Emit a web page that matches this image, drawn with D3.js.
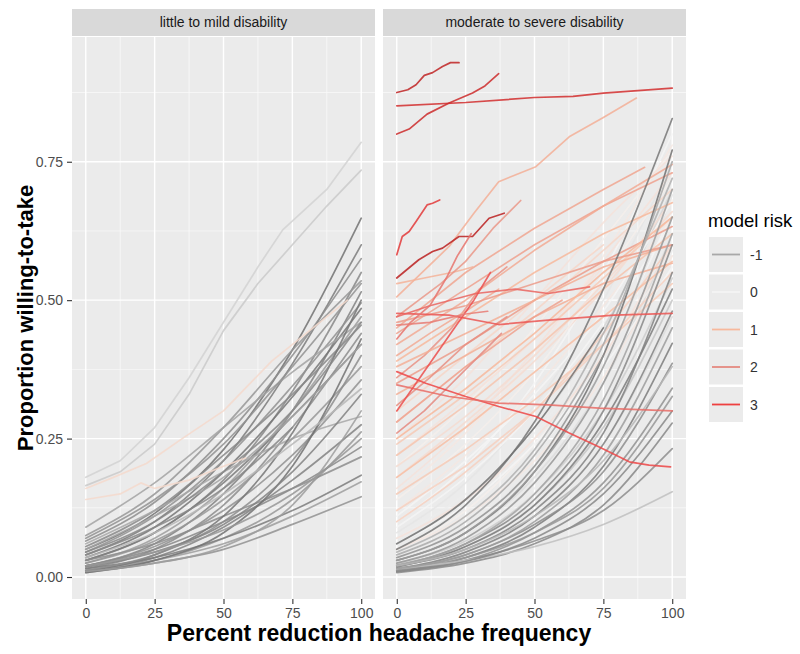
<!DOCTYPE html>
<html><head><meta charset="utf-8">
<script src="https://cdn.jsdelivr.net/npm/d3@7"></script>
<style>
body{margin:0;background:#fff}
text{font-family:"Liberation Sans",Arial,Helvetica,sans-serif}
</style>
</head><body>
<svg id="c" width="800" height="654"></svg>
<script>
// ---------------- data ----------------
const facets = ["little to mild disability", "moderate to severe disability"];
const xTicks = [0, 25, 50, 75, 100];
const xMinor = [12.5, 37.5, 62.5, 87.5];
const yTicks = [0, 0.25, 0.5, 0.75];
const yTickLabels = ["0.00", "0.25", "0.50", "0.75"];
const yMinor = [0.125, 0.375, 0.625, 0.875];
const legendBreaks = [-1, 0, 1, 2, 3];
const gridXs = [0, 25, 50, 75, 100];   // x positions shared by the "grid" series below

// left facet: series sampled at gridXs
const leftGridRisk = [-2.0,-1.8,-1.5,-1.6,-1.3,-1.7,-1.4,-1.9,-1.2,-1.6,-1.5,-1.8,-1.1,-1.4,-1.7,-1.3,-1.6,-1.5,-1.8,-1.2,-1.4,-1.0,-1.6,-1.9,-1.3,-1.5,-2.0,-1.1,-1.7,-1.4,-0.8,-1.2,-1.6,-1.3];
const leftGridY = [
  [0.050,0.115,0.230,0.410,0.648],
  [0.040,0.100,0.210,0.385,0.600],
  [0.065,0.135,0.250,0.400,0.575],
  [0.030,0.080,0.175,0.335,0.550],
  [0.075,0.150,0.270,0.410,0.535],
  [0.020,0.060,0.150,0.300,0.515],
  [0.045,0.110,0.210,0.345,0.495],
  [0.035,0.090,0.190,0.325,0.485],
  [0.025,0.070,0.160,0.300,0.470],
  [0.055,0.120,0.220,0.330,0.455],
  [0.015,0.050,0.130,0.270,0.440],
  [0.030,0.080,0.170,0.290,0.420],
  [0.090,0.170,0.270,0.370,0.460],
  [0.020,0.055,0.120,0.220,0.356],
  [0.010,0.035,0.090,0.175,0.275],
  [0.012,0.030,0.070,0.140,0.262],
  [0.020,0.050,0.100,0.160,0.235],
  [0.030,0.060,0.110,0.160,0.217],
  [0.015,0.035,0.070,0.120,0.184],
  [0.010,0.030,0.060,0.110,0.172],
  [0.008,0.025,0.050,0.095,0.145],
  [0.060,0.120,0.190,0.250,0.290],
  [0.040,0.090,0.160,0.270,null],
  [0.010,0.040,0.110,0.260,0.500],
  [0.025,0.065,0.140,0.250,0.380],
  [0.012,0.040,0.100,0.210,0.400],
  [0.008,0.030,0.080,0.200,0.430],
  [0.050,0.110,0.180,0.290,0.420],
  [0.018,0.045,0.095,0.190,0.330],
  [0.070,0.140,0.240,0.380,0.530],
  [0.035,0.080,0.150,0.240,0.340],
  [0.010,0.025,0.055,0.130,0.300],
  [0.045,0.100,0.190,0.300,0.460],
  [0.020,0.045,0.085,0.150,0.250]
];
// left facet: series with their own x positions
const leftFreeRisk = [-0.45, -0.55, 0.45, 0.45];
const leftFreePts = [
  [[0,0.18],[12.5,0.21],[25,0.27],[37.5,0.36],[50,0.46],[62.5,0.56],[71.5,0.627],[87.5,0.70],[100,0.785]],
  [[0,0.165],[12.5,0.19],[25,0.24],[37.5,0.33],[50,0.445],[62.5,0.53],[75,0.60],[87.5,0.67],[100,0.735]],
  [[0,0.16],[10,0.18],[22,0.205],[35,0.25],[50,0.30],[67.5,0.39],[80,0.44],[95,0.50]],
  [[0,0.14],[12.5,0.15],[20,0.17],[25,0.16],[37.5,0.175],[50,0.20],[58,0.215]]
];

// right facet: series sampled at gridXs
const rightGridRisk = [-1.9,-2.0,-1.6,-1.7,-1.8,-1.5,-1.4,-1.3,-1.6,-1.5,-0.7,-1.7,-1.2,-1.0,-2.0,-1.3,-1.8,-1.1,-1.4,-0.9,-1.6,-1.2,-0.8,
  -0.4,-0.2,0.0,0.2,0.1,0.3,0.0,-0.3,0.2,-0.1,0.1,0.4,-0.5,0.0,0.3,-0.2,0.1,-0.6,0.5,0.0,
  0.3,0.5,0.6,0.2,0.4,-0.1,0.7,0.0,0.3,-0.3];
const rightGridY = [
  [0.050,0.130,0.280,0.520,0.828],
  [0.030,0.080,0.190,0.400,0.771],
  [0.020,0.060,0.140,0.300,0.600],
  [0.015,0.045,0.110,0.240,0.480],
  [0.010,0.035,0.090,0.200,0.422],
  [0.012,0.040,0.095,0.190,0.386],
  [0.010,0.030,0.080,0.170,0.341],
  [0.012,0.035,0.080,0.160,0.326],
  [0.008,0.025,0.060,0.130,0.278],
  [0.010,0.030,0.065,0.120,0.232],
  [0.015,0.030,0.055,0.095,0.154],
  [0.020,0.050,0.120,0.260,0.550],
  [0.030,0.080,0.190,0.380,0.700],
  [0.040,0.100,0.220,0.420,0.750],
  [0.060,0.140,0.270,0.450,null],
  [0.025,0.070,0.170,0.350,0.650],
  [0.018,0.055,0.130,0.280,0.520],
  [0.022,0.060,0.150,0.320,0.620],
  [0.035,0.090,0.200,0.400,null],
  [0.045,0.110,0.230,0.440,0.720],
  [0.010,0.028,0.070,0.150,0.300],
  [0.015,0.040,0.100,0.220,0.450],
  [0.020,0.050,0.110,0.210,0.380],
  [0.060,0.140,0.270,0.450,0.700],
  [0.080,0.170,0.310,0.500,0.750],
  [0.100,0.200,0.350,0.550,0.800],
  [0.150,0.260,0.400,0.580,0.780],
  [0.200,0.310,0.450,0.610,0.770],
  [0.250,0.360,0.500,0.640,0.760],
  [0.040,0.100,0.220,0.400,0.660],
  [0.030,0.080,0.180,0.350,0.620],
  [0.120,0.220,0.340,0.490,0.650],
  [0.070,0.150,0.260,0.420,0.600],
  [0.050,0.120,0.240,0.400,0.580],
  [0.180,0.280,0.390,0.520,0.680],
  [0.025,0.065,0.150,0.300,0.540],
  [0.090,0.180,0.300,0.460,0.640],
  [0.220,0.320,0.430,0.560,null],
  [0.035,0.090,0.200,0.380,0.690],
  [0.140,0.240,0.370,0.540,0.720],
  [0.020,0.055,0.130,0.270,0.500],
  [0.280,0.380,0.480,0.590,0.700],
  [0.060,0.130,0.240,0.380,0.560],
  [0.160,0.270,0.410,0.570,0.730],
  [0.300,0.400,0.500,0.600,null],
  [0.100,0.190,0.300,0.440,0.600],
  [0.050,0.110,0.210,0.360,0.580],
  [0.200,0.290,0.400,0.530,0.660],
  [0.030,0.070,0.160,0.320,0.590],
  [0.240,0.330,0.430,0.540,0.650],
  [0.110,0.210,0.330,0.480,0.680],
  [0.070,0.140,0.250,0.400,0.600],
  [0.015,0.045,0.110,0.240,0.470]
];
const nDarkRight = 23; // first 23 grid series are the dark grey ones (drawn above the pale ones)
// right facet: salmon series with their own x positions
const rightSalmonRisk = [1.2,1.5,1.3,1.0,1.6,1.2,1.8,1.4,1.0,0.8,1.5,1.1,0.9,1.3,1.7,0.7,1.9,0.6,2.0,1.2,1.6];
const rightSalmonPts = [
  [[0,0.506],[19,0.597],[28,0.657],[37,0.714],[50.5,0.741],[62.6,0.795],[75,0.83],[87,0.865]],
  [[0,0.44],[25,0.52],[50,0.60],[75,0.67],[100,0.73]],
  [[0,0.42],[25,0.50],[50,0.59],[75,0.67],[100,0.745]],
  [[0,0.39],[25,0.47],[50,0.55],[75,0.62],[100,0.676]],
  [[0,0.35],[25,0.42],[50,0.50],[75,0.57],[100,0.633]],
  [[0,0.33],[25,0.40],[50,0.47],[75,0.53],[100,0.567]],
  [[0,0.36],[10,0.40],[20,0.45],[30,0.52],[40,0.56]],
  [[0,0.45],[25,0.55],[50,0.63],[75,0.70],[90,0.74]],
  [[0,0.25],[25,0.34],[50,0.44],[75,0.55],[100,0.65]],
  [[0,0.22],[25,0.31],[50,0.41],[75,0.52],[100,0.62]],
  [[0,0.28],[25,0.38],[50,0.47],[60,0.50]],
  [[0,0.53],[10,0.54],[20,0.55],[24,0.555],[27.5,0.56]],
  [[0,0.18],[25,0.27],[50,0.37],[75,0.47],[100,0.57]],
  [[0,0.40],[12,0.44],[25,0.48],[37,0.52]],
  [[0,0.47],[8,0.50],[16,0.53],[25,0.57],[35,0.63],[45,0.68]],
  [[0,0.15],[25,0.23],[50,0.32],[75,0.42],[100,0.53]],
  [[0,0.31],[12,0.36],[25,0.42],[40,0.47]],
  [[0,0.12],[25,0.20],[50,0.30],[75,0.42],[100,0.55]],
  [[0,0.26],[10,0.30],[20,0.35],[30,0.40],[38,0.44]],
  [[0,0.38],[25,0.44],[50,0.50],[75,0.56],[100,0.60]],
  [[0,0.46],[25,0.49],[50,0.53],[75,0.57],[100,0.60]]
];
// right facet: red series
const rightRedRisk = [3.8,3.5,3.6,3.2,3.9,2.9,2.4,2.7,2.5,2.8,2.3,2.2];
const rightRedPts = [
  [[0,0.875],[4,0.88],[7,0.889],[10,0.906],[13,0.911],[16.6,0.922],[19.5,0.929],[22.6,0.929]],
  [[0,0.851],[25,0.857],[50,0.866],[64,0.868],[75,0.874],[100,0.883]],
  [[0,0.80],[4.5,0.809],[11,0.836],[19,0.856],[27.5,0.874],[32,0.887],[37,0.909]],
  [[0,0.582],[2,0.615],[4.5,0.624],[7,0.642],[11,0.672],[13,0.675],[15.6,0.681]],
  [[0,0.54],[8,0.573],[13,0.588],[16.6,0.594],[22.6,0.615],[27.5,0.615],[33.5,0.648],[39,0.657]],
  [[0,0.371],[10.5,0.35],[25,0.326],[37,0.308],[50.5,0.29],[62.6,0.26],[73.5,0.235],[84.4,0.208],[91.6,0.202],[99.4,0.199]],
  [[0,0.347],[19,0.326],[37,0.314],[55,0.311],[73.5,0.305],[100,0.30]],
  [[0,0.476],[19,0.473],[37,0.456],[55,0.464],[79,0.473],[100,0.476]],
  [[0,0.47],[12,0.49],[28.7,0.512],[43,0.52],[55,0.512],[70,0.524]],
  [[0,0.30],[7,0.35],[14,0.40],[21,0.45],[28,0.50],[34,0.55]],
  [[0,0.43],[5,0.46],[12,0.49],[18,0.54],[22,0.58],[27,0.62]],
  [[0,0.455],[12,0.46],[25,0.475],[33,0.48]]
];

// ---------------- drawing ----------------
const svg = d3.select("#c");
const panels = [{x0:72, x1:375}, {x0:383, x1:686}];
const pTop = 37, pBot = 599;
const y = d3.scaleLinear().domain([-0.0397, 0.9753]).range([pBot, pTop]);
const color = d3.scaleLinear()
  .domain([-3,-2,-1,0,1,2,3,4])
  .range(["#4a4a4a","#727272","#a8a8a8","#f4f4f4","#f7b89c","#e58a80","#ee4040","#b51c1c"])
  .clamp(true);

const toPts = ys => gridXs.map((x,i)=>[x, ys[i]]).filter(d=>d[1]!=null);

const facetData = [
  [
    ...leftGridY.map((ys,i)=>({r:leftGridRisk[i], p:toPts(ys), smooth:true})),
    ...leftFreePts.map((p,i)=>({r:leftFreeRisk[i], p, smooth:false}))
  ],
  [
    ...rightGridY.slice(nDarkRight).map((ys,i)=>({r:rightGridRisk[i+nDarkRight], p:toPts(ys), smooth:true})),
    ...rightSalmonPts.map((p,i)=>({r:rightSalmonRisk[i], p, smooth:false})),
    ...rightGridY.slice(0,nDarkRight).map((ys,i)=>({r:rightGridRisk[i], p:toPts(ys), smooth:true})),
    ...rightRedPts.map((p,i)=>({r:rightRedRisk[i], p, smooth:false}))
  ]
];

panels.forEach((pn, k) => {
  const x = d3.scaleLinear().domain([-5, 105]).range([pn.x0, pn.x1]);
  const g = svg.append("g");
  // strip
  g.append("rect").attr("x", pn.x0).attr("y", 9).attr("width", pn.x1-pn.x0).attr("height", 27).attr("fill", "#d9d9d9");
  g.append("text").attr("x", (pn.x0+pn.x1)/2).attr("y", 27).attr("text-anchor","middle")
    .attr("font-size", 14).attr("fill", "#1a1a1a").text(facets[k]);
  // panel
  g.append("rect").attr("x", pn.x0).attr("y", pTop).attr("width", pn.x1-pn.x0).attr("height", pBot-pTop).attr("fill", "#ebebeb");
  xMinor.forEach(v => g.append("line").attr("x1", x(v)).attr("x2", x(v)).attr("y1", pTop).attr("y2", pBot).attr("stroke","#fafafa").attr("stroke-width",0.7));
  yMinor.forEach(v => g.append("line").attr("x1", pn.x0).attr("x2", pn.x1).attr("y1", y(v)).attr("y2", y(v)).attr("stroke","#fafafa").attr("stroke-width",0.7));
  xTicks.forEach(v => g.append("line").attr("x1", x(v)).attr("x2", x(v)).attr("y1", pTop).attr("y2", pBot).attr("stroke","#fff").attr("stroke-width",1.4));
  yTicks.forEach(v => g.append("line").attr("x1", pn.x0).attr("x2", pn.x1).attr("y1", y(v)).attr("y2", y(v)).attr("stroke","#fff").attr("stroke-width",1.4));

  const clipId = "clip"+k;
  svg.append("clipPath").attr("id", clipId).append("rect")
    .attr("x", pn.x0).attr("y", pTop).attr("width", pn.x1-pn.x0).attr("height", pBot-pTop);
  const lineS = d3.line().x(d=>x(d[0])).y(d=>y(d[1])).curve(d3.curveMonotoneX);
  const lineL = d3.line().x(d=>x(d[0])).y(d=>y(d[1]));
  g.append("g").attr("clip-path", `url(#${clipId})`)
    .selectAll("path").data(facetData[k]).join("path")
    .attr("d", d=>(d.smooth ? lineS : lineL)(d.p)).attr("fill","none")
    .attr("stroke", d=>color(d.r)).attr("stroke-width", 1.7)
    .attr("stroke-opacity", 0.85).attr("stroke-linejoin","round").attr("stroke-linecap","round");

  // x axis
  const xa = d3.axisBottom(x).tickValues(xTicks).tickSize(5).tickPadding(4).tickFormat(d3.format("d"));
  const gx = g.append("g").attr("transform", `translate(0,${pBot})`).call(xa);
  gx.select(".domain").remove();
  gx.selectAll("line").attr("stroke","#333").attr("stroke-width",1.1);
  gx.selectAll("text").attr("font-size",14).attr("fill","#4d4d4d").attr("font-family","Liberation Sans, Arial, sans-serif");

  if (k === 0) {
    const ya = d3.axisLeft(y).tickValues(yTicks).tickSize(5).tickPadding(4).tickFormat((d,i)=>yTickLabels[i]);
    const gy = g.append("g").attr("transform", `translate(${pn.x0},0)`).call(ya);
    gy.select(".domain").remove();
    gy.selectAll("line").attr("stroke","#333").attr("stroke-width",1.1);
    gy.selectAll("text").attr("font-size",14).attr("fill","#4d4d4d").attr("font-family","Liberation Sans, Arial, sans-serif");
  }
});

// axis titles
svg.append("text").attr("x", 379).attr("y", 641).attr("text-anchor","middle")
  .attr("font-size", 23).attr("font-weight","bold").attr("fill","#000")
  .text("Percent reduction headache frequency");
svg.append("text").attr("transform","translate(33,318) rotate(-90)").attr("text-anchor","middle")
  .attr("font-size", 22).attr("font-weight","bold").attr("fill","#000")
  .text("Proportion willing-to-take");

// legend
const lg = svg.append("g");
lg.append("text").attr("x", 708).attr("y", 227).attr("font-size", 18.5).attr("fill","#000").text("model risk");
legendBreaks.forEach((b,i) => {
  const ky = 237 + i*37.5;
  lg.append("rect").attr("x",709).attr("y",ky).attr("width",34).attr("height",35).attr("fill","#ebebeb");
  lg.append("line").attr("x1",712).attr("x2",740).attr("y1",ky+17.5).attr("y2",ky+17.5)
    .attr("stroke", color(b)).attr("stroke-width",1.8);
  lg.append("text").attr("x",750).attr("y",ky+22.5).attr("font-size",14).attr("fill","#333").text(b);
});
</script>
</body></html>
